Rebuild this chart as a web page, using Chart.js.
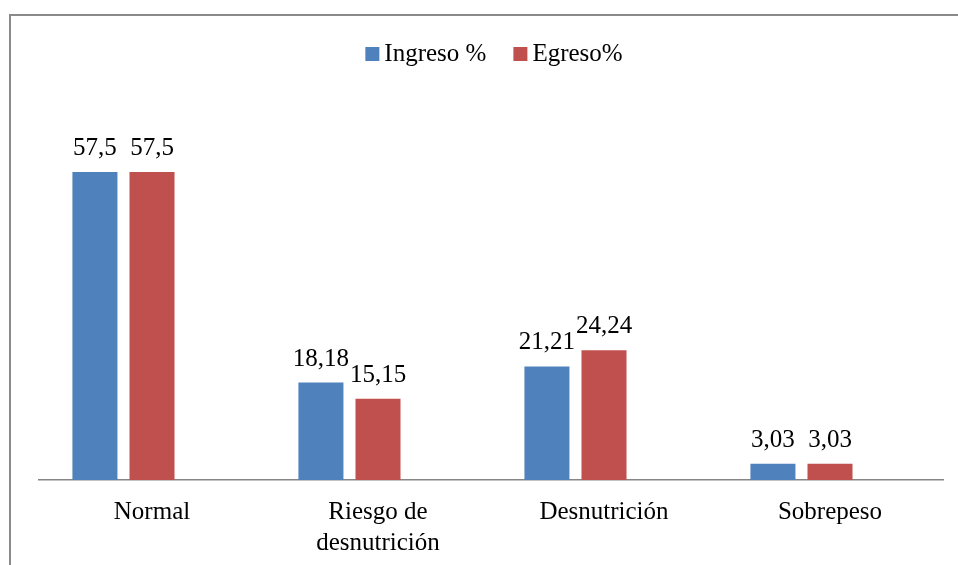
<!DOCTYPE html>
<html>
<head>
<meta charset="utf-8">
<script src="https://cdn.jsdelivr.net/npm/chart.js@4.4.1/dist/chart.umd.min.js"></script>
<style>
  html, body { margin: 0; padding: 0; background: #ffffff; }
  #wrap { width: 958px; height: 565px; position: relative; }
</style>
</head>
<body>
<div id="wrap"><canvas id="chart" width="958" height="565"></canvas></div>
<script>
// Estado nutricional al ingreso y al egreso (%)
const categories = ['Normal', ['Riesgo de', 'desnutrición'], 'Desnutrición', 'Sobrepeso'];
const ingreso = [57.5, 18.18, 21.21, 3.03];
const egreso = [57.5, 15.15, 24.24, 3.03];
const seriesNames = ['Ingreso %', 'Egreso%'];
// third, empty slot of each group (keeps the bar spacing of the original sheet)
const reserva = [null, null, null, null];

const FONT = "'Liberation Serif', 'Times New Roman', 'DejaVu Serif', serif";
const FONT_SIZE = 25;

const framePlugin = {
  id: 'frame',
  beforeDraw(chart) {
    const ctx = chart.ctx;
    ctx.save();
    ctx.fillStyle = '#ffffff';
    ctx.fillRect(0, 0, chart.width, chart.height);
    ctx.strokeStyle = '#8a8a8a';
    ctx.lineWidth = 2;
    ctx.strokeRect(10, 15, chart.width + 20, chart.height + 20);
    ctx.restore();
  }
};

const valueLabels = {
  id: 'valueLabels',
  afterDatasetsDraw(chart) {
    const ctx = chart.ctx;
    ctx.save();
    ctx.font = FONT_SIZE + 'px ' + FONT;
    ctx.fillStyle = '#000000';
    ctx.textAlign = 'center';
    ctx.textBaseline = 'alphabetic';
    chart.data.datasets.forEach((ds, i) => {
      if (!ds.label) return;
      const meta = chart.getDatasetMeta(i);
      meta.data.forEach((bar, j) => {
        const v = ds.data[j];
        if (v === null || v === undefined) return;
        ctx.fillText(String(v).replace('.', ','), bar.x, bar.y - 17);
      });
    });
    ctx.restore();
  }
};

const topLegend = {
  id: 'topLegend',
  afterDraw(chart) {
    const ctx = chart.ctx;
    const items = chart.data.datasets.filter(d => d.label);
    const box = 14, gapText = 5, gapItem = 27;
    ctx.save();
    ctx.font = FONT_SIZE + 'px ' + FONT;
    const widths = items.map(d => box + gapText + ctx.measureText(d.label).width);
    const total = widths.reduce((a, b) => a + b, 0) + gapItem * (items.length - 1);
    const cx = (chart.chartArea.left + chart.chartArea.right) / 2 + 3;
    let x = cx - total / 2;
    const baseY = 61;
    items.forEach((d, k) => {
      ctx.fillStyle = d.backgroundColor;
      ctx.fillRect(x, baseY - 14, box, box);
      ctx.fillStyle = '#000000';
      ctx.textAlign = 'left';
      ctx.textBaseline = 'alphabetic';
      ctx.fillText(d.label, x + box + gapText, baseY);
      x += widths[k] + gapItem;
    });
    ctx.restore();
  }
};

new Chart(document.getElementById('chart'), {
  type: 'bar',
  data: {
    labels: categories,
    datasets: [
      { label: seriesNames[0], data: ingreso, backgroundColor: '#4F81BD' },
      { label: seriesNames[1], data: egreso, backgroundColor: '#C0504D' },
      { label: '', data: reserva, backgroundColor: 'rgba(0,0,0,0)' }
    ]
  },
  options: {
    responsive: false,
    animation: false,
    devicePixelRatio: 1,
    layout: { padding: { top: 105, left: 39, right: 15, bottom: 0 } },
    datasets: {
      bar: { categoryPercentage: 0.7575, barPercentage: 0.789 }
    },
    plugins: {
      legend: { display: false },
      tooltip: { enabled: false },
      title: { display: false }
    },
    scales: {
      x: {
        grid: { display: false, drawTicks: false },
        border: { display: true, color: '#868686', width: 1.5 },
        ticks: {
          color: '#000000',
          font: { family: FONT, size: FONT_SIZE, lineHeight: 1.24 },
          padding: 17,
          maxRotation: 0,
          autoSkip: false
        },
        afterFit(scale) { scale.height = 85; }
      },
      y: {
        display: false,
        min: 0,
        max: 70
      }
    }
  },
  plugins: [framePlugin, valueLabels, topLegend]
});
</script>
</body>
</html>
